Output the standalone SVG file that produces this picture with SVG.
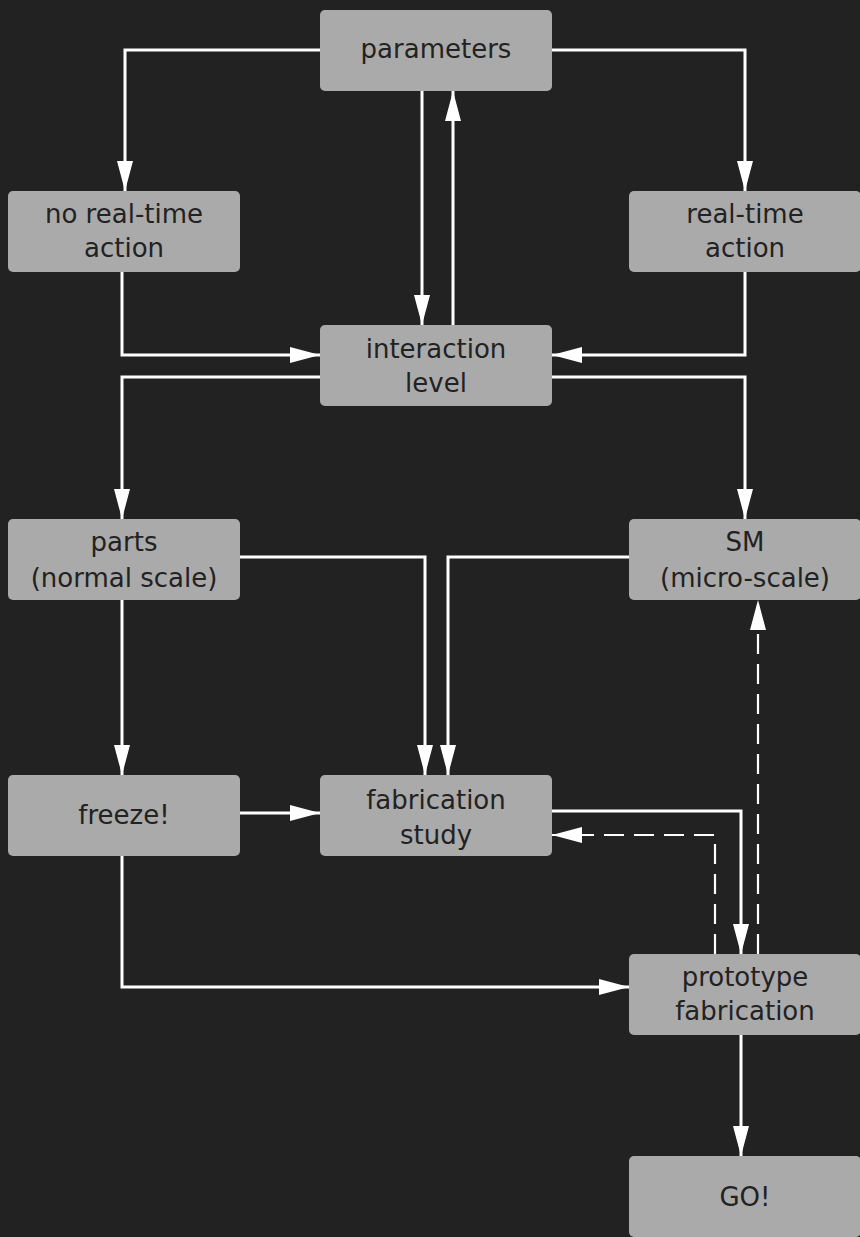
<svg xmlns="http://www.w3.org/2000/svg" width="860" height="1237" viewBox="0 0 860 1237">
<defs>
<style>
.node rect{fill:#aaaaaa;stroke:none}
.node text{font-family:"DejaVu Sans",sans-serif;font-size:26px;fill:#222222;text-anchor:middle;dominant-baseline:central}
.edge{fill:none;stroke:#ffffff;stroke-width:3}
.dash{stroke-width:2.2;stroke-dasharray:20 10}
</style>
<marker id="ah" markerUnits="userSpaceOnUse" markerWidth="30" markerHeight="16" refX="30" refY="8" orient="auto">
<path d="M0,0 L30,8 L0,16 Z" fill="#ffffff" stroke="none"/>
</marker>
</defs>
<rect width="860" height="1237" fill="#222222"/>
<g id="connectors">
<path class="edge" d="M320,50 H125 V191" marker-end="url(#ah)"/>
<path class="edge" d="M552,50 H745 V191" marker-end="url(#ah)"/>
<path class="edge" d="M422,91 V325" marker-end="url(#ah)"/>
<path class="edge" d="M453,325 V91" marker-end="url(#ah)"/>
<path class="edge" d="M122,272 V355 H320" marker-end="url(#ah)"/>
<path class="edge" d="M745,272 V355 H552" marker-end="url(#ah)"/>
<path class="edge" d="M320,377 H122 V519" marker-end="url(#ah)"/>
<path class="edge" d="M552,377 H745 V519" marker-end="url(#ah)"/>
<path class="edge" d="M240,557 H425 V775" marker-end="url(#ah)"/>
<path class="edge" d="M629,557 H448 V775" marker-end="url(#ah)"/>
<path class="edge" d="M122,600 V775" marker-end="url(#ah)"/>
<path class="edge" d="M240,813 H320" marker-end="url(#ah)"/>
<path class="edge" d="M552,811 H741 V954" marker-end="url(#ah)"/>
<path class="edge dash" d="M715,954 V835 H552" marker-end="url(#ah)"/>
<path class="edge dash" d="M758,954 V600" marker-end="url(#ah)"/>
<path class="edge" d="M122,856 V987 H629" marker-end="url(#ah)"/>
<path class="edge" d="M741,1035 V1156" marker-end="url(#ah)"/>
</g>
<g id="parameters" class="node"><rect x="320" y="10" width="232" height="81" rx="5"/><text x="436" y="49">parameters</text></g>
<g id="no-realtime" class="node"><rect x="8" y="191" width="232" height="81" rx="5"/><text x="124" y="214">no real-time</text><text x="124" y="248">action</text></g>
<g id="realtime" class="node"><rect x="629" y="191" width="232" height="81" rx="5"/><text x="745" y="214">real-time</text><text x="745" y="248">action</text></g>
<g id="interaction" class="node"><rect x="320" y="325" width="232" height="81" rx="5"/><text x="436" y="349">interaction</text><text x="436" y="383">level</text></g>
<g id="parts" class="node"><rect x="8" y="519" width="232" height="81" rx="5"/><text x="124" y="542">parts</text><text x="124" y="578">(normal scale)</text></g>
<g id="sm" class="node"><rect x="629" y="519" width="232" height="81" rx="5"/><text x="745" y="542">SM</text><text x="745" y="578">(micro-scale)</text></g>
<g id="freeze" class="node"><rect x="8" y="775" width="232" height="81" rx="5"/><text x="124" y="815">freeze!</text></g>
<g id="fabstudy" class="node"><rect x="320" y="775" width="232" height="81" rx="5"/><text x="436" y="800">fabrication</text><text x="436" y="835">study</text></g>
<g id="prototype" class="node"><rect x="629" y="954" width="232" height="81" rx="5"/><text x="745" y="977">prototype</text><text x="745" y="1011">fabrication</text></g>
<g id="go" class="node"><rect x="629" y="1156" width="232" height="81" rx="5"/><text x="745" y="1197">GO!</text></g>
</svg>
